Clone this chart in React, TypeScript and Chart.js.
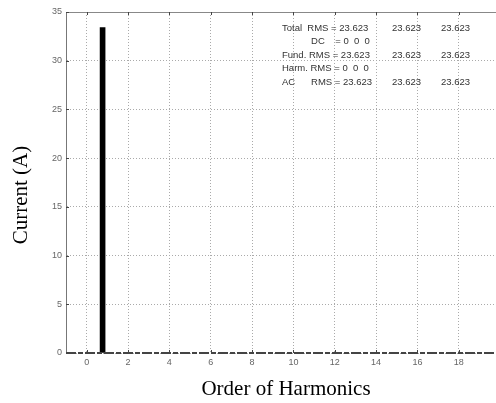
import React, { useEffect, useRef } from "react";
import { Chart, registerables } from "chart.js";

Chart.register(...registerables);

const harmonicOrder = [0.77];
const currentValues = [33.4];
const xTicks = [0, 2, 4, 6, 8, 10, 12, 14, 16, 18];
const yTicks = [0, 5, 10, 15, 20, 25, 30, 35];
const xTitle = "Order of Harmonics";
const yTitle = "Current (A)";
const infoLabels = ["Total  RMS = 23.623", "           DC    = 0  0  0", "Fund. RMS = 23.623", "Harm. RMS = 0  0  0", "AC      RMS = 23.623"];
const infoPhase2 = ["23.623", "", "23.623", "", "23.623"];
const infoPhase3 = ["23.623", "", "23.623", "", "23.623"];

const overlay = {
  id: "overlay",
  afterDraw(chart: any) {
    const ctx = chart.ctx;
    const a = chart.chartArea;
    ctx.save();
    // top border
    ctx.strokeStyle = "#888";
    ctx.lineWidth = 1;
    ctx.beginPath();
    ctx.moveTo(a.left, a.top + 0.5);
    ctx.lineTo(a.right, a.top + 0.5);
    ctx.stroke();
    // bottom axis line (dashed look)
    ctx.strokeStyle = "#444";
    ctx.lineWidth = 2;
    ctx.setLineDash([10, 2, 5, 2]);
    ctx.beginPath();
    ctx.moveTo(a.left, a.bottom);
    ctx.lineTo(a.right, a.bottom);
    ctx.stroke();
    ctx.setLineDash([]);
    // inner tick marks
    const xs = chart.scales.x;
    const ys = chart.scales.y;
    ctx.strokeStyle = "#444";
    ctx.lineWidth = 1;
    xTicks.forEach((t) => {
      const px = Math.round(xs.getPixelForValue(t)) + 0.5;
      ctx.beginPath();
      ctx.moveTo(px, a.bottom);
      ctx.lineTo(px, a.bottom - 3);
      ctx.moveTo(px, a.top);
      ctx.lineTo(px, a.top + 3);
      ctx.stroke();
    });
    yTicks.forEach((t) => {
      const py = Math.round(ys.getPixelForValue(t)) + 0.5;
      ctx.beginPath();
      ctx.moveTo(a.left, py);
      ctx.lineTo(a.left + 3, py);
      ctx.stroke();
    });
    // info text
    ctx.fillStyle = "#333";
    ctx.font = "9.5px 'Liberation Sans', Arial, sans-serif";
    ctx.textBaseline = "middle";
    ctx.textAlign = "left";
    const lineH = 13.5;
    const y0 = a.top + 16;
    const x0 = a.left + 216;
    infoLabels.forEach((s, i) => {
      ctx.fillText(s, x0, y0 + i * lineH);
      if (infoPhase2[i]) ctx.fillText(infoPhase2[i], x0 + 110, y0 + i * lineH);
      if (infoPhase3[i]) ctx.fillText(infoPhase3[i], x0 + 159, y0 + i * lineH);
    });
    // axis titles
    ctx.fillStyle = "#000";
    ctx.font = "21px 'Liberation Serif', 'Times New Roman', serif";
    ctx.textAlign = "center";
    ctx.textBaseline = "middle";
    ctx.fillText(xTitle, 286, 389);
    ctx.save();
    ctx.translate(21, 195);
    ctx.rotate(-Math.PI / 2);
    ctx.fillText(yTitle, 0, 0);
    ctx.restore();
    ctx.restore();
  },
};

export default function App() {
  const ref = useRef<HTMLCanvasElement>(null);
  useEffect(() => {
    document.body.style.margin = "0";
    const chart = new Chart(ref.current!, {
      type: "bar",
      data: {
        datasets: [
          {
            data: harmonicOrder.map((x, i) => ({ x, y: currentValues[i] })),
            backgroundColor: "#000",
            barThickness: 5,
          },
        ],
      },
      options: {
        animation: false,
        responsive: false,
        layout: { padding: { top: 12, right: 0, left: 0, bottom: 0 } },
        plugins: { legend: { display: false }, tooltip: { enabled: false } },
        scales: {
          x: {
            type: "linear",
            offset: false,
            min: -1,
            max: 19.8,
            afterBuildTicks: (s: any) => {
              s.ticks = xTicks.map((v) => ({ value: v }));
            },
            afterFit: (s: any) => {
              s.height = 50;
            },
            ticks: {
              color: "#666",
              font: { size: 9, family: "'Liberation Sans', Arial, sans-serif" },
              padding: 4,
              maxRotation: 0,
            },
            grid: {
              offset: false,
              color: "#aaa",
              lineWidth: 1,
              drawTicks: false,
            },
            border: { display: false, dash: [1, 2] },
          },
          y: {
            min: 0,
            max: 35,
            afterBuildTicks: (s: any) => {
              s.ticks = yTicks.map((v) => ({ value: v }));
            },
            afterFit: (s: any) => {
              s.width = 66;
            },
            ticks: {
              color: "#666",
              font: { size: 9, family: "'Liberation Sans', Arial, sans-serif" },
              padding: 4,
            },
            grid: { color: "#aaa", lineWidth: 1, drawTicks: false },
            border: { display: true, color: "#777", width: 1, dash: [1, 2] },
          },
        },
      },
      plugins: [overlay],
    } as any);
    return () => chart.destroy();
  }, []);
  return <canvas ref={ref} width={496} height={403} style={{ display: "block" }} />;
}
